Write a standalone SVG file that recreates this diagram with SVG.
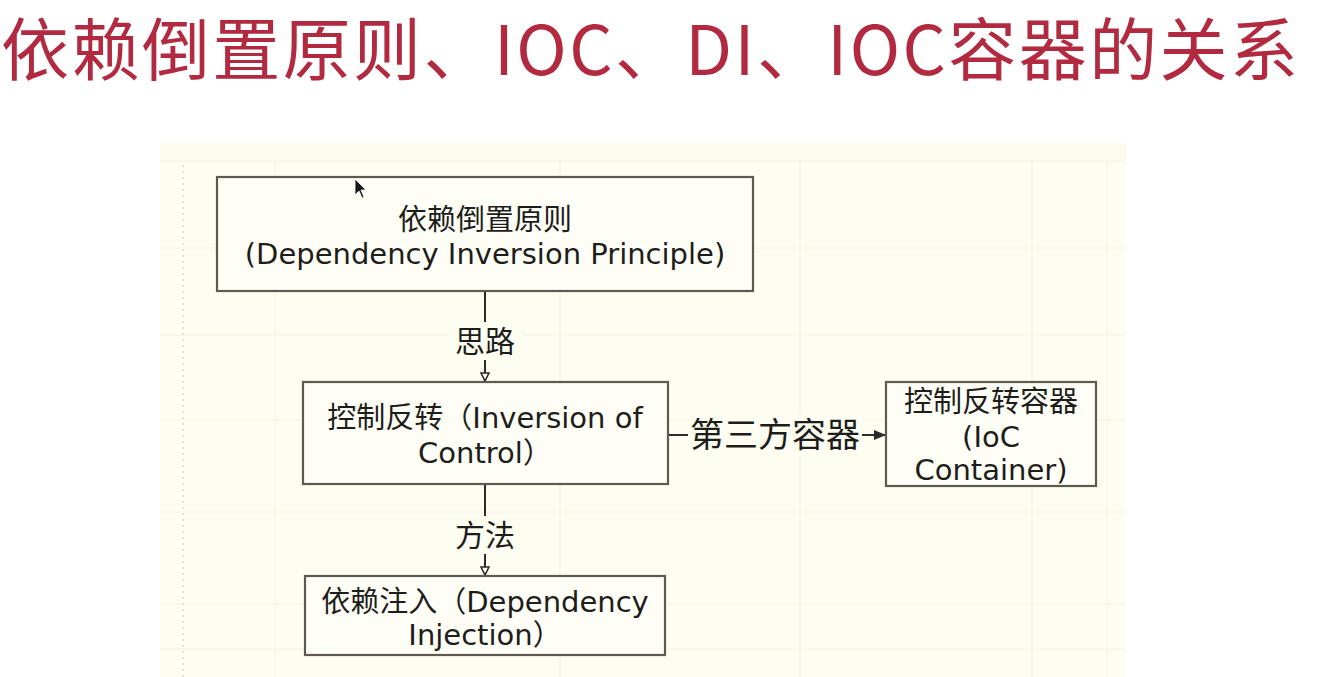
<svg xmlns="http://www.w3.org/2000/svg" width="1334" height="677" viewBox="0 0 1334 677">
  <defs>
    <style>
      .title { font-family: "Noto Sans CJK SC", "Liberation Sans", sans-serif; font-size: 68px; fill: #b22a40; }
      .box { fill: #fffef6; stroke: #5e5a52; stroke-width: 2.2; }
      .txt { font-family: "DejaVu Sans", "Noto Sans CJK SC", sans-serif; font-size: 29px; fill: #1d1d1b; text-anchor: middle; }
      .edge { stroke: #2a2a28; stroke-width: 2; fill: none; }
      .lbl { font-family: "Noto Sans CJK SC", "DejaVu Sans", sans-serif; fill: #1d1d1b; text-anchor: middle; }
      .grid { stroke: #f3f2e3; stroke-width: 1; }
    </style>
    <marker id="open" viewBox="0 0 10 10" refX="9" refY="5" markerWidth="10" markerHeight="10" markerUnits="userSpaceOnUse" orient="auto">
      <path d="M1,1 L9,5 L1,9 Z" fill="#fffef6" stroke="#2a2a28" stroke-width="1.6"/>
    </marker>
    <marker id="solid" viewBox="0 0 12 10" refX="11" refY="5" markerWidth="12" markerHeight="10" markerUnits="userSpaceOnUse" orient="auto">
      <path d="M0,0 L12,5 L0,10 Z" fill="#2a2a28"/>
    </marker>
  </defs>

  <rect width="1334" height="677" fill="#ffffff"/>

  <!-- canvas -->
  <rect x="160" y="143" width="966" height="534" fill="#fefdf1"/>
  <rect x="160" y="143" width="966" height="18" fill="#fdfcec"/>
  <g class="grid">
    <line x1="160" y1="161" x2="1126" y2="161"/>
    <line x1="160" y1="248" x2="1126" y2="248"/>
    <line x1="160" y1="335" x2="1126" y2="335"/>
    <line x1="160" y1="420" x2="1126" y2="420"/>
    <line x1="160" y1="512" x2="1126" y2="512"/>
    <line x1="160" y1="604" x2="1126" y2="604"/>
    <line x1="160" y1="649" x2="1126" y2="649"/>
    <line x1="275" y1="161" x2="275" y2="677"/>
    <line x1="560" y1="161" x2="560" y2="677"/>
    <line x1="800" y1="161" x2="800" y2="677"/>
    <line x1="1032" y1="161" x2="1032" y2="677"/>
    <line x1="1107" y1="161" x2="1107" y2="677"/>
  </g>
  <line x1="183" y1="165" x2="183" y2="677" stroke="#dcdacc" stroke-width="1.5" stroke-dasharray="2 4"/>

  <!-- heading -->
  <text class="title" x="1" y="75" textLength="1297" lengthAdjust="spacing">依赖倒置原则、IOC、DI、IOC容器的关系</text>

  <!-- connectors -->
  <g id="connectors">
    <line class="edge" x1="485" y1="291" x2="485" y2="381" marker-end="url(#open)"/>
    <rect x="448" y="322" width="74" height="38" fill="#fefdf1"/>
    <text class="lbl" x="485" y="352" font-size="30">思路</text>

    <line class="edge" x1="485" y1="484" x2="485" y2="575" marker-end="url(#open)"/>
    <rect x="448" y="516" width="74" height="38" fill="#fefdf1"/>
    <text class="lbl" x="485" y="546" font-size="30">方法</text>

    <line class="edge" x1="668" y1="435" x2="885" y2="435" marker-end="url(#solid)"/>
    <rect x="688" y="414" width="174" height="42" fill="#fefdf1"/>
    <text class="lbl" x="775" y="447" font-size="34">第三方容器</text>
  </g>

  <!-- nodes -->
  <g id="node-dip">
    <rect class="box" x="217" y="177" width="536" height="114"/>
    <text class="txt" x="485" y="230" font-size="28">依赖倒置原则</text>
    <text class="txt" x="485" y="264">(Dependency Inversion Principle)</text>
  </g>

  <g id="node-ioc">
    <rect class="box" x="303" y="382" width="365" height="102"/>
    <text class="txt" x="485" y="428">控制反转（Inversion of</text>
    <text class="txt" x="485" y="463">Control）</text>
  </g>

  <g id="node-container">
    <rect class="box" x="886" y="382" width="210" height="104"/>
    <text class="txt" x="991" y="412">控制反转容器</text>
    <text class="txt" x="991" y="447">(IoC</text>
    <text class="txt" x="991" y="480">Container)</text>
  </g>

  <g id="node-di">
    <rect class="box" x="305" y="576" width="360" height="79"/>
    <text class="txt" x="485" y="612">依赖注入（Dependency</text>
    <text class="txt" x="485" y="645">Injection）</text>
  </g>

  <!-- pointer -->
  <path d="M355,179 L355,195 L359,191 L362,198 L364,197 L361,190 L366,190 Z" fill="#1a1a1a" stroke="#ffffff" stroke-width="0.8"/>
</svg>
